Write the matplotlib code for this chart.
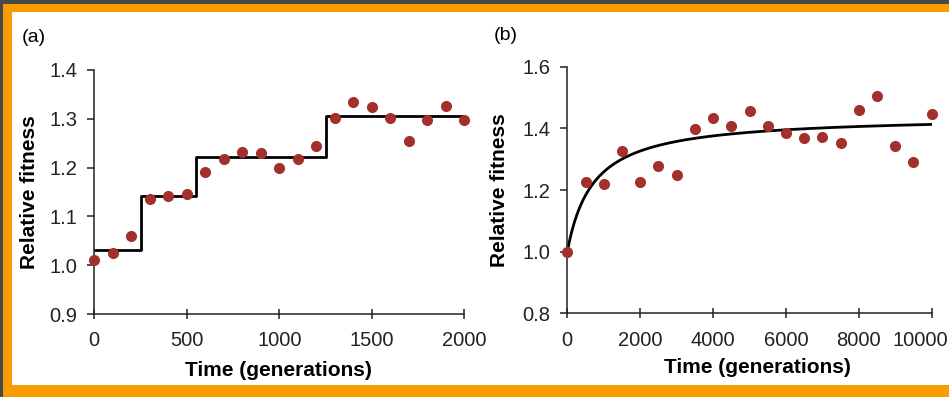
import numpy as np
import matplotlib
matplotlib.use("Agg")
import matplotlib.pyplot as plt
from matplotlib.patches import Rectangle
from matplotlib.transforms import ScaledTranslation

plt.rcParams['font.family'] = ['Liberation Sans', 'DejaVu Sans']

# panel (a): 2000 generations, step model
gen_a = [0, 100, 200, 300, 400, 500, 600, 700, 800, 900, 1000,
         1100, 1200, 1300, 1400, 1500, 1600, 1700, 1800, 1900, 2000]
fit_a = [1.01, 1.024, 1.06, 1.136, 1.142, 1.146, 1.192, 1.218, 1.231, 1.229, 1.20,
         1.218, 1.244, 1.302, 1.335, 1.324, 1.301, 1.254, 1.298, 1.327, 1.297]
step_edges = [0, 250, 550, 1250, 2000]
step_levels = [1.032, 1.141, 1.222, 1.305, 1.305]

# panel (b): 10000 generations, hyperbolic model
gen_b = [0, 500, 1000, 1500, 2000, 2500, 3000, 3500, 4000, 4500, 5000,
         5500, 6000, 6500, 7000, 7500, 8000, 8500, 9000, 9500, 10000]
fit_b = [1.0, 1.226, 1.218, 1.328, 1.226, 1.278, 1.25, 1.398, 1.432, 1.409, 1.456,
         1.409, 1.385, 1.368, 1.373, 1.354, 1.46, 1.504, 1.344, 1.29, 1.448]
hyp_a = 0.442   # asymptotic gain
hyp_b = 708     # half-saturation time

dot = '#a3302b'
W, H = 949, 397
fig = plt.figure(figsize=(W / 100, H / 100), dpi=100)
fig.patch.set_facecolor('#f99c00')

# page frame: dark strip, orange border, white page
fig.add_artist(Rectangle((0, 1 - 4 / H), 1, 4 / H, transform=fig.transFigure,
                         facecolor='#46484b', edgecolor='none', zorder=0))
fig.add_artist(Rectangle((0, 0), 3 / W, 1, transform=fig.transFigure,
                         facecolor='#46484b', edgecolor='none', zorder=0))
fig.add_artist(Rectangle((12 / W, 12 / H), 1, 1 - 24 / H, transform=fig.transFigure,
                         facecolor='white', edgecolor='none', zorder=0))

ax1 = fig.add_axes([94.3 / W, 1 - 314 / H, 370 / W, 244 / H])
ax2 = fig.add_axes([567.3 / W, 1 - 313.3 / H, 364.4 / W, 246.6 / H])

for ax in (ax1, ax2):
    ax.set_facecolor('none')
    for s in ('top', 'right'):
        ax.spines[s].set_visible(False)
    for s in ('left', 'bottom'):
        ax.spines[s].set_linewidth(1.1)
        ax.spines[s].set_color('#222222')
    ax.tick_params(axis='y', direction='out', length=5, width=1.1,
                   labelsize=14.5, pad=7, colors='#222222')
    ax.tick_params(axis='x', direction='inout', length=7, width=1.1,
                   labelsize=14.5, pad=9, colors='#222222')
    ax.set_xlabel('Time (generations)', fontsize=15, fontweight='bold', va='top')
    ax.set_ylabel('Relative fitness', fontsize=15, fontweight='bold', va='center')

# (a)
ax1.step(step_edges, step_levels, where='post', color='black', lw=2, zorder=2)
ax1.scatter(gen_a, fit_a, s=64, color=dot, zorder=3, clip_on=False, linewidths=0)
ax1.set_xlim(0, 2000)
ax1.set_ylim(0.9, 1.4)
ax1.set_xticks([0, 500, 1000, 1500, 2000])
ax1.set_yticks([0.9, 1.0, 1.1, 1.2, 1.3, 1.4])
ax1.yaxis.set_major_formatter(matplotlib.ticker.FormatStrFormatter('%.1f'))
ax1.xaxis.set_label_coords(0.499, -0.193)
ax1.yaxis.set_label_coords(-0.174, 0.5)
fig.text(22 / W, 1 - 38 / H, '(a)', fontsize=14, va='center', ha='left')

# (b)
t = np.linspace(0, 10000, 400)
ax2.plot(t, 1 + hyp_a * t / (t + hyp_b), color='black', lw=2, zorder=2)
ax2.scatter(gen_b, fit_b, s=64, color=dot, zorder=3, clip_on=False, linewidths=0)
ax2.set_xlim(0, 10000)
ax2.set_ylim(0.8, 1.6)
ax2.set_xticks([0, 2000, 4000, 6000, 8000, 10000])
ax2.set_yticks([0.8, 1.0, 1.2, 1.4, 1.6])
ax2.yaxis.set_major_formatter(matplotlib.ticker.FormatStrFormatter('%.1f'))
ax2.xaxis.set_label_coords(0.523, -0.181)
ax2.yaxis.set_label_coords(-0.185, 0.5)
fig.text(494 / W, 1 - 36 / H, '(b)', fontsize=14, va='center', ha='left')

# last label sits a little left of its tick, as in the print
fig.canvas.draw()
last = ax2.get_xticklabels()[-1]
last.set_transform(last.get_transform() + ScaledTranslation(-11 / 100, 0, fig.dpi_scale_trans))

fig.savefig('out.png', dpi=100, facecolor=fig.get_facecolor())
